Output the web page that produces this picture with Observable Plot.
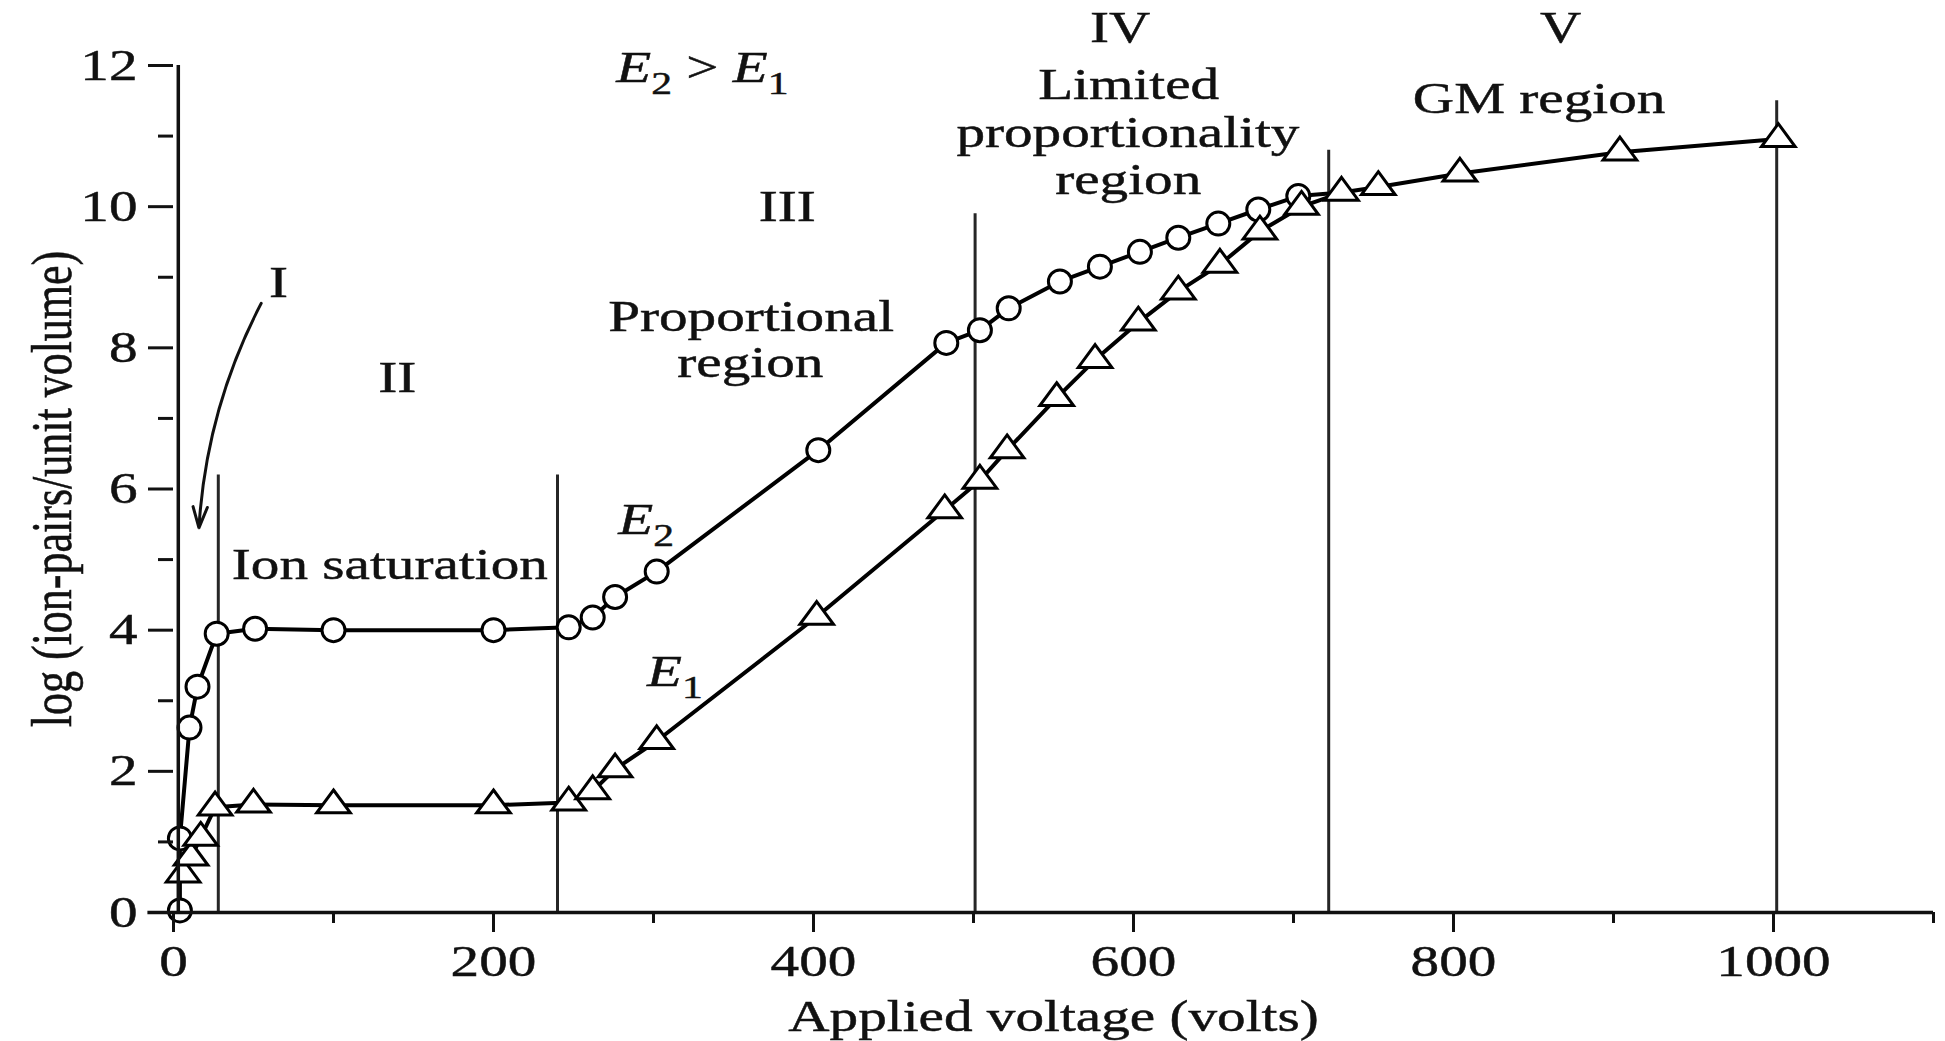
<!DOCTYPE html>
<html>
<head>
<meta charset="utf-8">
<script src="https://cdn.jsdelivr.net/npm/d3@7"></script>
<script src="https://cdn.jsdelivr.net/npm/@observablehq/plot@0.6"></script>
<style>
  html, body { margin: 0; padding: 0; background: #ffffff; }
  #chart { width: 1945px; height: 1041px; }
  #chart svg text { stroke: #111; stroke-width: 0.45px; }
</style>
</head>
<body>
<div id="chart"></div>
<script>
// ---- data ----
const voltageE2 = [4, 4, 10, 15, 27, 51, 100, 200, 247, 262, 276, 302, 403, 483, 504, 522, 554, 579, 604, 628, 653, 678, 703];
const logE2     = [0.03, 1.05, 2.62, 3.2, 3.95, 4.02, 4.0, 4.0, 4.04, 4.18, 4.47, 4.83, 6.55, 8.07, 8.25, 8.56, 8.94, 9.15, 9.36, 9.56, 9.76, 9.96, 10.15];
const voltageE1 = [6, 11, 17, 26, 50, 100, 200, 247, 262, 276, 302, 402, 482, 504, 521, 552, 576, 603, 628, 654, 679, 705, 730, 753, 804, 904, 1003];
const logE1     = [0.54, 0.78, 1.06, 1.49, 1.53, 1.52, 1.52, 1.56, 1.72, 2.03, 2.43, 4.19, 5.7, 6.12, 6.55, 7.29, 7.83, 8.36, 8.8, 9.18, 9.65, 10.0, 10.2, 10.28, 10.47, 10.77, 10.96];
const e2JoinsE1At = 730;
const regionBounds = [28, 240, 501, 722, 1002];
const regionTops   = [6.2, 6.2, 9.9, 10.8, 11.5];
const xMajorTicks = [0, 200, 400, 600, 800, 1000];
const xMinorTicks = [100, 300, 500, 700, 900, 1100];
const yMajorTicks = [0, 2, 4, 6, 8, 10, 12];
const yMinorTicks = [1, 3, 5, 7, 9, 11];
const xLabel = "Applied voltage (volts)";
const yLabel = "log (ion-pairs/unit volume)";
const regionTexts = [
  {label: "I", x: 65.6, y: 8.72},
  {label: "II", x: 139.8, y: 7.37},
  {label: "Ion saturation", x: 135.2, y: 4.73},
  {label: "III", x: 383.6, y: 9.80},
  {label: "Proportional", x: 361, y: 8.245},
  {label: "region", x: 360.5, y: 7.58},
  {label: "IV", x: 591.7, y: 12.33},
  {label: "Limited", x: 597, y: 11.53},
  {label: "proportionality", x: 596.5, y: 10.84},
  {label: "region", x: 596.7, y: 10.18},
  {label: "V", x: 867, y: 12.33},
  {label: "GM region", x: 853.5, y: 11.32}
];
const seriesTexts = [
  {label: "E_2 > E_1", x: 276.7, y: 11.76},
  {label: "E_2", x: 278, y: 5.36},
  {label: "E_1", x: 296, y: 3.21}
];
const arrowI = [{x1: 54.8, y1: 8.63, x2: 15.9, y2: 5.45}];

// ---- build tables ----
const e2Points = voltageE2.map((v, i) => ({v, L: logE2[i]}));
const e1Points = voltageE1.map((v, i) => ({v, L: logE1[i]}));
const e2Line = [...e2Points, e1Points.find(d => d.v === e2JoinsE1At)];
const regions = regionBounds.map((v, i) => ({v, top: regionTops[i]}));

const triangle = {
  draw(ctx, size) {
    const r = Math.sqrt(size / Math.PI);
    const w = r * 1.4, h = r * 1.9;
    ctx.moveTo(0, -h * 2 / 3);
    ctx.lineTo(w, h / 3);
    ctx.lineTo(-w, h / 3);
    ctx.closePath();
  }
};

const INK = "#111";
const chart = Plot.plot({
  width: 1945,
  height: 1041,
  marginLeft: 173,
  marginRight: 12,
  marginTop: 65,
  marginBottom: 129,
  x: {domain: [0, 1100], axis: null},
  y: {domain: [0, 12], axis: null},
  style: {
    fontFamily: "'Liberation Serif', 'Times New Roman', serif",
    fontSize: "44px",
    background: "#ffffff",
    color: INK,
    overflow: "visible"
  },
  marks: [
    Plot.ruleX(regions, {x: "v", y1: 0, y2: "top", stroke: "#262626", strokeWidth: 3}),
    Plot.line(e2Line, {x: "v", y: "L", stroke: "#000", strokeWidth: 4}),
    Plot.line(e1Points, {x: "v", y: "L", stroke: "#000", strokeWidth: 4}),
    Plot.dot(e2Points, {x: "v", y: "L", r: 11.5, fill: "white", stroke: "#000", strokeWidth: 3}),
    Plot.dot(e1Points, {x: "v", y: "L", r: 12, symbol: triangle, fill: "white", stroke: "#000", strokeWidth: 3}),
    Plot.ruleY([0], {x1: -16, x2: 1100, stroke: INK, strokeWidth: 3.5}),
    Plot.ruleX([3], {y1: 0, y2: 12, stroke: INK, strokeWidth: 3.5}),
    Plot.axisX({ticks: xMajorTicks, tickFormat: d => String(d), tickSize: 20, tickPadding: 12, strokeWidth: 3, label: null}),
    Plot.axisX({ticks: xMinorTicks, tickSize: 11, text: null, strokeWidth: 3, label: null}),
    Plot.axisY({ticks: yMajorTicks, tickFormat: d => String(d), tickSize: 25, tickPadding: 11, strokeWidth: 3, label: null}),
    Plot.axisY({ticks: yMinorTicks, tickSize: 15, text: null, strokeWidth: 3, label: null}),
    Plot.text([xLabel], {text: d => d, frameAnchor: "bottom", textAnchor: "middle", dy: 118, lineAnchor: "bottom"}),
    Plot.text([yLabel], {text: d => d, frameAnchor: "left", textAnchor: "middle", rotate: -90, dx: -103, lineAnchor: "bottom"}),
    Plot.arrow(arrowI, {x1: "x1", y1: "y1", x2: "x2", y2: "y2", bend: -12, headLength: 11, headAngle: 38, stroke: INK, strokeWidth: 3}),
    Plot.text(regionTexts, {x: "x", y: "y", text: "label", textAnchor: "middle", lineAnchor: "bottom"}),
    Plot.text(seriesTexts, {x: "x", y: "y", text: "label", textAnchor: "start", lineAnchor: "bottom"})
  ]
});

// ---- text post-processing: subscripts and the horizontal stretch of the scanned lettering ----
const NS = "http://www.w3.org/2000/svg";
const SUB_SHIFT = 12;
chart.querySelectorAll("text").forEach(t => {
  const s = t.textContent;
  if (s.includes("_")) {
    const parts = s.split(/(E_\d)/).filter(p => p.length);
    while (t.firstChild) t.removeChild(t.firstChild);
    let shifted = false;
    for (const p of parts) {
      const m = p.match(/^E_(\d)$/);
      if (m) {
        const e = document.createElementNS(NS, "tspan");
        e.setAttribute("font-style", "italic");
        if (shifted) { e.setAttribute("dy", -SUB_SHIFT); shifted = false; }
        e.textContent = "E";
        t.appendChild(e);
        const sub = document.createElementNS(NS, "tspan");
        sub.setAttribute("font-size", "32");
        sub.setAttribute("dy", SUB_SHIFT);
        sub.textContent = m[1];
        t.appendChild(sub);
        shifted = true;
      } else {
        const n = document.createElementNS(NS, "tspan");
        if (shifted) { n.setAttribute("dy", -SUB_SHIFT); shifted = false; }
        n.textContent = p;
        t.appendChild(n);
      }
    }
  }
});
const STRETCH = 1.3;
chart.querySelectorAll("text").forEach(t => {
  const tr = t.getAttribute("transform") || "";
  const rotated = /rotate\(\s*-?90/.test(tr);
  t.setAttribute("transform", `${tr} ${rotated ? `scale(1,${STRETCH})` : `scale(${STRETCH},1)`}`.trim());
  t.setAttribute("xml:space", "preserve");
});

document.getElementById("chart").appendChild(chart);
</script>
</body>
</html>
